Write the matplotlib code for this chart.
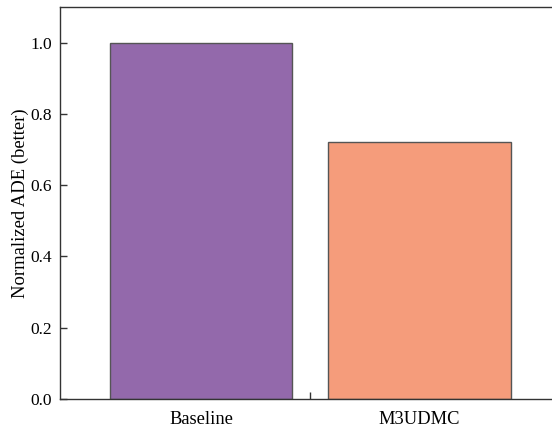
import matplotlib
matplotlib.use("Agg")
import matplotlib.pyplot as plt

categories = ["Baseline", "M3UDMC"]
values = [1.0, 0.72]
colors = ["#9369AB", "#F59C7B"]
yticks = [0.0, 0.2, 0.4, 0.6, 0.8, 1.0]

plt.rcParams['font.family'] = ['Liberation Serif', 'DejaVu Serif']

fig = plt.figure(figsize=(5.52, 4.30), dpi=100)
ax = fig.add_axes([60/552, 1 - 399/430, (560 - 60)/552, (399 - 7)/430])

pos = [1, 2]
ax.bar(pos, values, width=0.833, color=colors, edgecolor="#555555", linewidth=1.0)

ax.set_xlim(0.355, 2.643)
ax.set_ylim(0, 1.1)
ax.set_yticks(yticks)
ax.set_yticklabels([f"{v:.1f}" for v in yticks], fontsize=12.5)
ax.set_xticks(pos)
ax.set_xticklabels(categories, fontsize=13.3)
ax.set_xticks([1.5], minor=True)
ax.tick_params(axis='x', which='major', length=0, pad=9)
ax.tick_params(axis='x', which='minor', direction='in', length=5, width=1, color="#333333")
ax.tick_params(axis='y', direction='in', length=5, width=1, color="#333333", pad=6)
ax.set_ylabel("Normalized ADE (better)", fontsize=13.4, labelpad=0.5)
for s in ax.spines.values():
    s.set_linewidth(1.0)
    s.set_color("#333333")

fig.savefig("out.png", dpi=100)
